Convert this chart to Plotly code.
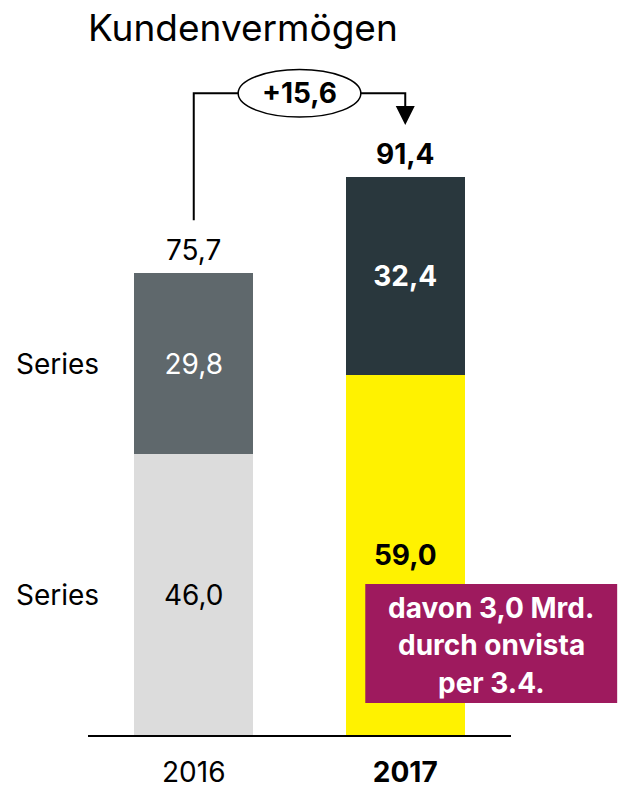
import plotly.graph_objects as go

years = ["2016", "2017"]
bottom_values = [46.0, 59.0]
top_values = [29.8, 32.4]
totals = [75.7, 91.4]
delta = "+15,6"
series_labels = ["Series", "Series"]
note_lines = ["davon 3,0 Mrd.", "durch onvista", "per 3.4."]

bottom_colors = ["#dcdcdc", "#fff200"]
top_colors = ["#5f686c", "#29373d"]
font_family = "Inter, 'Open Sans', sans-serif"
num_size = 28

X_RANGE = [-0.5, 1.5]
Y_RANGE = [0, 695 / 6.1]


def de(v):
    return f"{v:.1f}".replace(".", ",")


def bold_if(s, flag):
    return f"<b>{s}</b>" if flag else s


def px_(x):
    # data x -> paper x
    return (x - X_RANGE[0]) / (X_RANGE[1] - X_RANGE[0])


def py_(y):
    return (y - Y_RANGE[0]) / (Y_RANGE[1] - Y_RANGE[0])


x_pos = [0, 1]
is_bold = [False, True]

fig = go.Figure()
fig.add_trace(go.Bar(
    x=x_pos, y=bottom_values, marker_color=bottom_colors, width=0.5625,
    text=[bold_if(de(v), b) for v, b in zip(bottom_values, is_bold)],
    textposition="inside", insidetextanchor="middle", constraintext="none",
    textfont=dict(size=num_size, color="black", family=font_family),
    hoverinfo="skip", marker_line_width=0,
))
fig.add_trace(go.Bar(
    x=x_pos, y=top_values, marker_color=top_colors, width=0.5625,
    text=[bold_if(de(v), b) for v, b in zip(top_values, is_bold)],
    textposition="inside", insidetextanchor="middle", constraintext="none",
    textfont=dict(size=num_size, color="white", family=font_family),
    hoverinfo="skip", marker_line_width=0,
))

annotations = []
# totals above bars
for xi, t, b in zip(x_pos, totals, is_bold):
    annotations.append(dict(
        x=xi, y=t, xref="x", yref="y", text=bold_if(de(t), b), showarrow=False,
        yanchor="bottom", yshift=4, font=dict(size=num_size, color="black", family=font_family),
    ))

# series labels on the left
for lbl, yv in zip(series_labels, [bottom_values[0] / 2, bottom_values[0] + top_values[0] / 2]):
    annotations.append(dict(
        x=px_(-0.85), y=py_(yv), xref="paper", yref="paper", text=lbl, showarrow=False,
        xanchor="left", yanchor="middle",
        font=dict(size=num_size, color="black", family=font_family),
    ))

# bracket with delta
bracket_y = max(totals) + 13.8
left_start = totals[0] + 8.7
arrow_tip = totals[1] + 8.6
ell_hw = 0.29
ell_hh = 3.9
mid = 0.5
shapes = [
    dict(type="path", xref="x", yref="y",
         path=f"M {x_pos[0]},{left_start} L {x_pos[0]},{bracket_y} L {mid - ell_hw},{bracket_y}",
         line=dict(color="black", width=2)),
    dict(type="path", xref="x", yref="y",
         path=f"M {mid + ell_hw},{bracket_y} L {x_pos[1]},{bracket_y} L {x_pos[1]},{arrow_tip + 2.5}",
         line=dict(color="black", width=2)),
    dict(type="circle", xref="x", yref="y",
         x0=mid - ell_hw, x1=mid + ell_hw, y0=bracket_y - ell_hh, y1=bracket_y + ell_hh,
         line=dict(color="black", width=1.5), fillcolor="white"),
]
annotations.append(dict(
    x=x_pos[1], y=arrow_tip, ax=x_pos[1], ay=arrow_tip + 3, xref="x", yref="y",
    axref="x", ayref="y", text="", showarrow=True, arrowhead=2, arrowsize=1.9,
    arrowwidth=2, arrowcolor="black",
))
annotations.append(dict(
    x=mid, y=bracket_y, xref="x", yref="y", text=f"<b>{delta}</b>", showarrow=False,
    font=dict(size=num_size, color="black", family=font_family),
))

# magenta note box
box_x0, box_x1 = 0.811, 2.002
box_y0, box_y1 = 5.25, 24.75
shapes.append(dict(type="rect", xref="paper", yref="paper", x0=px_(box_x0), x1=px_(box_x1),
                   y0=py_(box_y0), y1=py_(box_y1), fillcolor="#9e1a5e", line_width=0, layer="above"))
line_ys = [20.9, 14.8, 8.6]
for txt, yv in zip(note_lines, line_ys):
    annotations.append(dict(
        x=px_((box_x0 + box_x1) / 2), y=py_(yv), xref="paper", yref="paper", text=f"<b>{txt}</b>",
        showarrow=False, xanchor="center", yanchor="middle",
        font=dict(size=28, color="white", family=font_family),
    ))

fig.update_layout(
    barmode="stack",
    width=620, height=788,
    margin=dict(l=88, r=109, t=40, b=53),
    paper_bgcolor="white", plot_bgcolor="white",
    showlegend=False,
    title=dict(text="Kundenvermögen", x=88 / 620, xanchor="left", xref="container",
               y=1 - 28 / 788, yanchor="middle", yref="container",
               font=dict(size=37, color="black", family=font_family)),
    xaxis=dict(range=X_RANGE, tickvals=x_pos, automargin=False,
               ticktext=[bold_if(y, b) for y, b in zip(years, is_bold)],
               showline=True, linecolor="black", linewidth=2, showgrid=False,
               zeroline=False, ticks="", ticklabelstandoff=11,
               tickfont=dict(size=num_size, color="black", family=font_family)),
    yaxis=dict(range=Y_RANGE, visible=False, showgrid=False, zeroline=False, automargin=False),
    shapes=shapes,
    annotations=annotations,
)

fig.write_html("out.html", post_script="document.body.style.margin='0';",
               config={"displayModeBar": False})
